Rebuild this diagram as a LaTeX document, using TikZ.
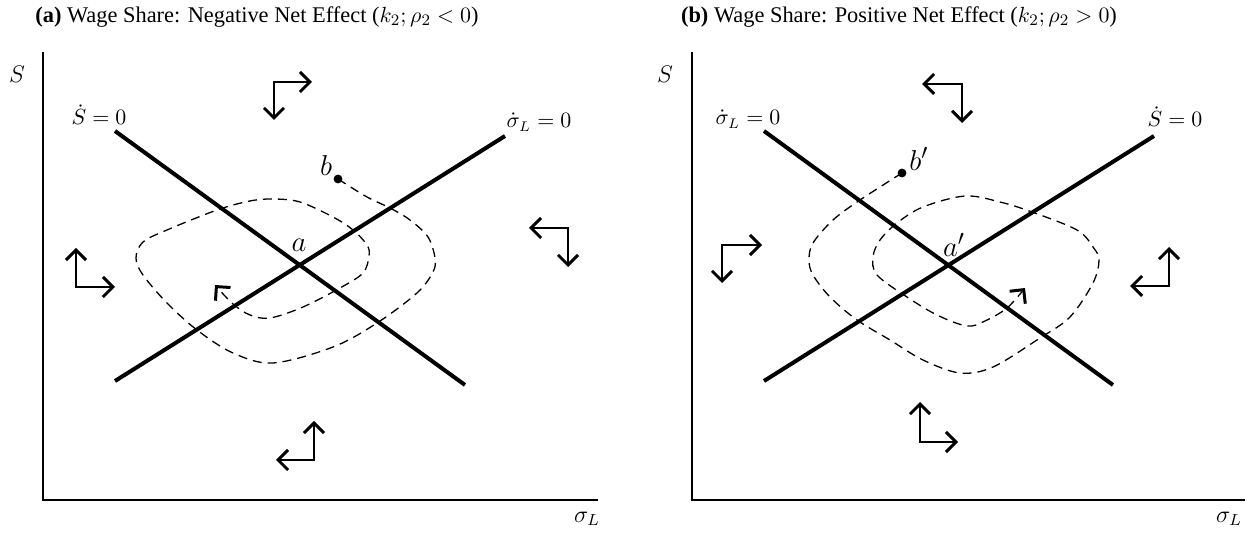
\documentclass[tikz,border=0pt]{standalone}
\usepackage{fontspec}
\newfontfamily\titlefont{Liberation Serif}
\usetikzlibrary{arrows.meta}
\begin{document}
\begin{tikzpicture}[x=0.5pt,y=-0.5pt,
  curve/.style={line width=2pt},
  axis/.style={line width=1pt},
  traj/.style={dash pattern=on 4.5pt off 3pt, line width=0.65pt},
  barb/.tip={Straight Barb[length=5pt,width=10pt,line width=1.5pt]},
  phase/.style={line width=0.9pt, barb-barb},
  lbl/.style={font=\fontsize{10.5}{10.5}\selectfont, inner sep=0pt},
  axl/.style={font=\fontsize{11.5}{11.5}\selectfont, inner sep=0pt},
  ptl/.style={font=\fontsize{15}{15}\selectfont, inner sep=0pt},
  ttl/.style={font=\titlefont\fontsize{11.2}{13}\selectfont, inner sep=0pt}
]
\useasboundingbox (0,0) rectangle (1250,534);

% ---------------- Panel (a) ----------------
\node[ttl] (ta) at (257,17) {\textbf{(a)} Wage Share: Negative Net Effect ($k_2; \rho_2 < 0$)};
\coordinate (aTop) at (43,52);
\coordinate (aO) at (43,500);
\coordinate (aRight) at (598,500);
\draw[axis] (aTop) -- (aO) -- (aRight);
\node[axl] (aS) at (17,74) {$S$};
\node[axl] (aSig) at (587,519) {$\sigma_{L}$};

\coordinate (aS1) at (115,131);
\coordinate (aS2) at (465,385);
\coordinate (aG1) at (115,381);
\coordinate (aG2) at (505,136);
\draw[curve] (aS1) -- (aS2);
\draw[curve] (aG1) -- (aG2);
\node[lbl, anchor=base] (aSlab) at (99,125) {$\dot S = 0$};
\node[lbl, anchor=base] (aGlab) at (539,128) {$\dot\sigma_{L} = 0$};
\node[ptl] (alab) at (299,245) {$a$};

\coordinate (bpt) at (338,179);
\fill (bpt) circle (2.2pt);
\node[ptl] (blab) at (326,166) {$b$};

\draw[traj, -barb] plot[smooth, tension=0.55] coordinates {
 (338,179) (367,197) (390,208) (410,220) (428,237) (435,258) (433,272) (417,293)
 (377,323) (333,347) (273,363) (233,353) (197,330) (167,303) (143,275) (136,258)
 (143,242) (167,230) (217,210) (250,201) (273,199) (300,202) (333,217) (353,230)
 (367,245) (369,256) (363,273) (340,288) (303,307) (270,318) (250,315) (233,304) (215,285)};

% phase arrows (a)
\coordinate (pa1c) at (274,82); \coordinate (pa1x) at (312,82); \coordinate (pa1y) at (274,120);
\draw[phase] (pa1x) -- (pa1c) -- (pa1y);
\coordinate (pa2c) at (76,287); \coordinate (pa2x) at (115,287); \coordinate (pa2y) at (76,248);
\draw[phase] (pa2x) -- (pa2c) -- (pa2y);
\coordinate (pa3c) at (568,228); \coordinate (pa3x) at (529,228); \coordinate (pa3y) at (568,267);
\draw[phase] (pa3x) -- (pa3c) -- (pa3y);
\coordinate (pa4c) at (314,460); \coordinate (pa4x) at (276,460); \coordinate (pa4y) at (314,421);
\draw[phase] (pa4x) -- (pa4c) -- (pa4y);

% ---------------- Panel (b) ----------------
\node[ttl] (tb) at (899,17) {\textbf{(b)} Wage Share: Positive Net Effect ($k_2; \rho_2 > 0$)};
\coordinate (bTop) at (692,52);
\coordinate (bO) at (692,500);
\coordinate (bRight) at (1245,500);
\draw[axis] (bTop) -- (bO) -- (bRight);
\node[axl] (bS) at (665,74) {$S$};
\node[axl] (bSig) at (1229,519) {$\sigma_{L}$};

\coordinate (bS1) at (764,381);
\coordinate (bS2) at (1154,136);
\coordinate (bG1) at (764,131);
\coordinate (bG2) at (1113,385);
\draw[curve] (bS1) -- (bS2);
\draw[curve] (bG1) -- (bG2);
\node[lbl, anchor=base] (bSlab) at (1175,127) {$\dot S = 0$};
\node[lbl, anchor=base] (bGlab) at (748,125) {$\dot\sigma_{L} = 0$};
\node[ptl] (aplab) at (954,245) {$a'$};

\coordinate (bppt) at (902,173);
\fill (bppt) circle (2.2pt);
\node[ptl] (bplab) at (919,159) {$b'$};

\draw[traj, -barb] plot[smooth, tension=0.55] coordinates {
 (902,173) (860,200) (833,220) (813,243) (809,260) (813,275) (830,297) (857,320)
 (890,340) (923,360) (960,373) (993,367) (1040,338) (1070,317) (1093,283) (1099,260)
 (1093,247) (1077,230) (1032,212) (1000,202) (965,196) (923,207) (897,223) (880,240)
 (873,257) (877,275) (907,297) (937,315) (967,326) (985,321) (1007,308) (1025,288)};

% phase arrows (b)
\coordinate (pb1c) at (962,84); \coordinate (pb1x) at (922,84); \coordinate (pb1y) at (962,123);
\draw[phase] (pb1x) -- (pb1c) -- (pb1y);
\coordinate (pb2c) at (722,245); \coordinate (pb2x) at (762,245); \coordinate (pb2y) at (722,283);
\draw[phase] (pb2x) -- (pb2c) -- (pb2y);
\coordinate (pb3c) at (1169,286); \coordinate (pb3x) at (1130,286); \coordinate (pb3y) at (1169,247);
\draw[phase] (pb3x) -- (pb3c) -- (pb3y);
\coordinate (pb4c) at (920,442); \coordinate (pb4x) at (958,442); \coordinate (pb4y) at (920,402);
\draw[phase] (pb4x) -- (pb4c) -- (pb4y);
\end{tikzpicture}
\end{document}
